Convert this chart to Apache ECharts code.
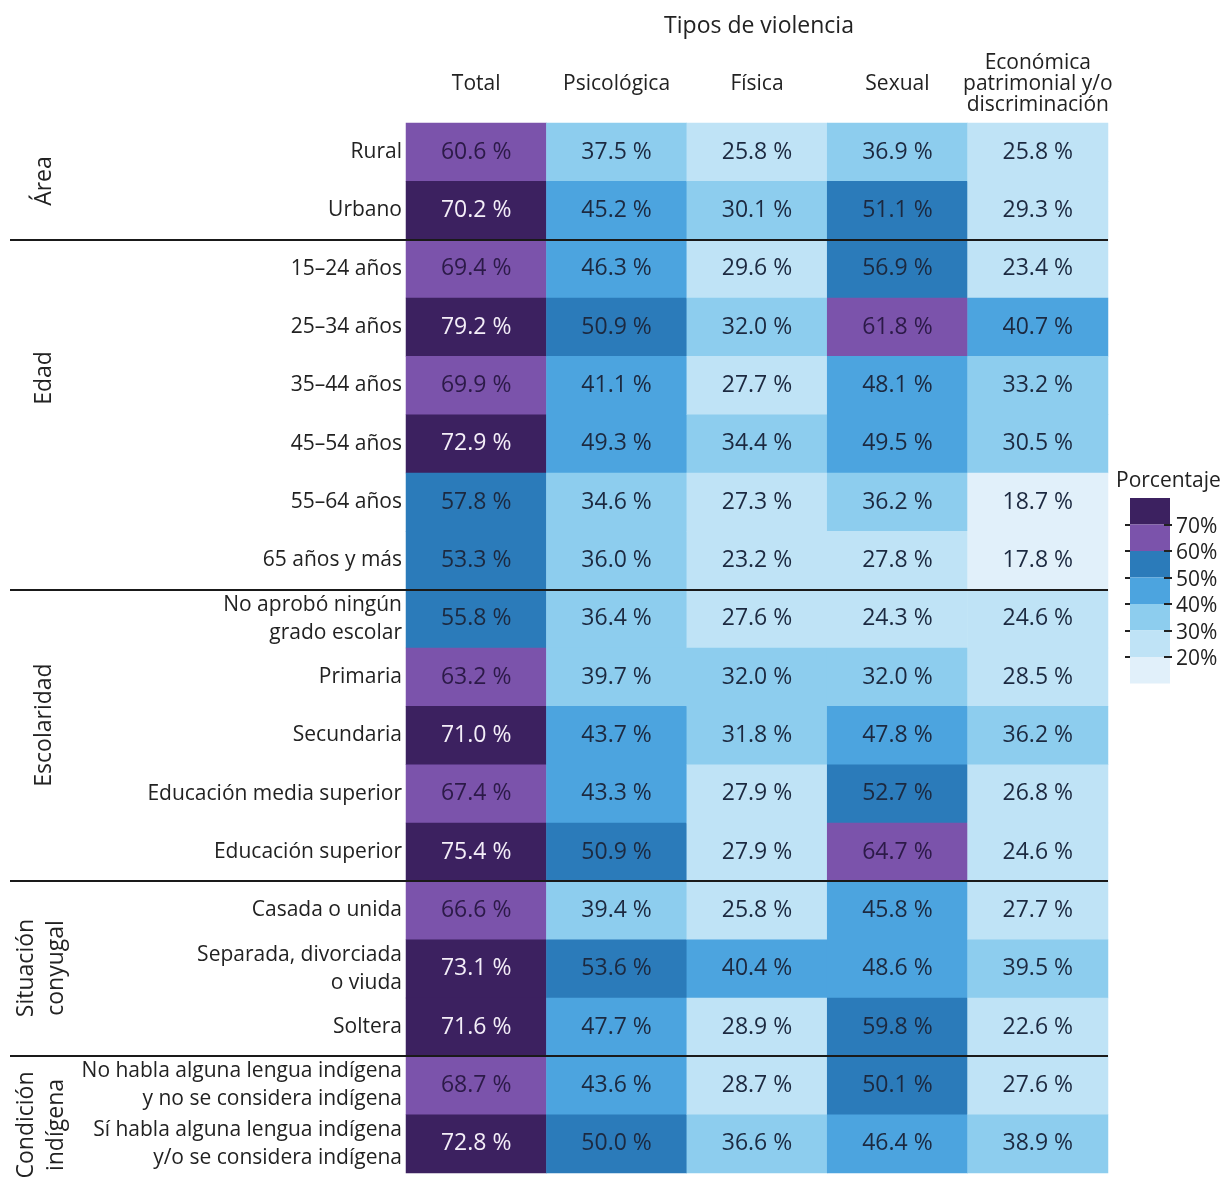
<!DOCTYPE html>
<html>
<head>
<meta charset="utf-8">
<script src="https://cdn.jsdelivr.net/npm/echarts@6/dist/echarts.min.js"></script>
<style>
  html, body { margin: 0; padding: 0; background: #fff; }
  #chart { width: 1230px; height: 1182px; }
</style>
</head>
<body>
<div id="chart"></div>
<script>
// Tipos de violencia (columns)
const tipos = ['Total', 'Psicológica', 'Física', 'Sexual', 'Económica\npatrimonial y/o\ndiscriminación'];

// Rows, top to bottom
const filas = [
    'Rural', 'Urbano',
    '15–24 años', '25–34 años', '35–44 años', '45–54 años', '55–64 años', '65 años y más',
    'No aprobó ningún\ngrado escolar', 'Primaria', 'Secundaria', 'Educación media superior', 'Educación superior',
    'Casada o unida', 'Separada, divorciada\no viuda', 'Soltera',
    'No habla alguna lengua indígena\ny no se considera indígena',
    'Sí habla alguna lengua indígena\ny/o se considera indígena'
];

// Percent values per column, same order as filas
const total       = [60.6, 70.2, 69.4, 79.2, 69.9, 72.9, 57.8, 53.3, 55.8, 63.2, 71.0, 67.4, 75.4, 66.6, 73.1, 71.6, 68.7, 72.8];
const psicologica = [37.5, 45.2, 46.3, 50.9, 41.1, 49.3, 34.6, 36.0, 36.4, 39.7, 43.7, 43.3, 50.9, 39.4, 53.6, 47.7, 43.6, 50.0];
const fisica      = [25.8, 30.1, 29.6, 32.0, 27.7, 34.4, 27.3, 23.2, 27.6, 32.0, 31.8, 27.9, 27.9, 25.8, 40.4, 28.9, 28.7, 36.6];
const sexual      = [36.9, 51.1, 56.9, 61.8, 48.1, 49.5, 36.2, 27.8, 24.3, 32.0, 47.8, 52.7, 64.7, 45.8, 48.6, 59.8, 50.1, 46.4];
const economica   = [25.8, 29.3, 23.4, 40.7, 33.2, 30.5, 18.7, 17.8, 24.6, 28.5, 36.2, 26.8, 24.6, 27.7, 39.5, 22.6, 27.6, 38.9];

// Row groups (name lines + vertical center of the rotated label)
const grupos = [
    { lines: ['Área'], cy: 181 },
    { lines: ['Edad'], cy: 378 },
    { lines: ['Escolaridad'], cy: 725 },
    { lines: ['Situación', 'conyugal'], cy: 968 },
    { lines: ['Condición', 'indígena'], cy: 1125 }
];
const cortesGrupo = [2, 8, 13, 16];

// Legend bins
const cortes = [70, 60, 50, 40, 30, 20];
const colores = ['#e1f0fa', '#bfe3f6', '#8dcdee', '#4ca4df', '#2b7bba', '#7b53ab', '#3c2160'];

const FONT = '"Open Sans", sans-serif';
const GRID = { left: 406, top: 123, width: 702, height: 1050 };
const rowH = GRID.height / filas.length;

const columnas = [total, psicologica, fisica, sexual, economica];

function labelColor(v) {
    if (v >= 70) return '#f4eef8';
    if (v >= 60) return '#2c1a48';
    return '#1c2940';
}

const data = [];
columnas.forEach((col, x) => {
    col.forEach((v, y) => {
        data.push({ value: [x, y, v], label: { color: labelColor(v) } });
    });
});

const chart = echarts.init(document.getElementById('chart'));

const graphics = [];

// group separators
cortesGrupo.forEach(k => {
    const y = Math.round(GRID.top + k * rowH);
    graphics.push({
        type: 'line', z: 100,
        shape: { x1: 10, y1: y, x2: GRID.left + GRID.width, y2: y },
        style: { stroke: '#1a1a1a', lineWidth: 2 }
    });
});

// rotated group names
grupos.forEach(g => {
    const n = g.lines.length;
    g.lines.forEach((t, i) => {
        const cx = n === 1 ? 44 : 26 + i * 30;
        graphics.push({
            type: 'text', x: cx, y: g.cy, rotation: Math.PI / 2,
            style: {
                text: t, font: '23px ' + FONT, fill: '#222',
                align: 'center', verticalAlign: 'middle'
            }
        });
    });
});

// legend title, ticks and labels
const LEG = { left: 1130, top: 498, w: 40, h: 26.5 };
graphics.push({
    type: 'text', x: 1116, y: 481,
    style: { text: 'Porcentaje', font: '21px ' + FONT, fill: '#222', verticalAlign: 'middle' }
});
cortes.forEach((c, i) => {
    const y = Math.round(LEG.top + (i + 1) * LEG.h);
    graphics.push({
        type: 'line', z: 100,
        shape: { x1: LEG.left - 5, y1: y, x2: LEG.left, y2: y },
        style: { stroke: '#222', lineWidth: 2 }
    });
    graphics.push({
        type: 'line', z: 100,
        shape: { x1: LEG.left + LEG.w - 6, y1: y, x2: LEG.left + LEG.w + 2, y2: y },
        style: { stroke: '#222', lineWidth: 2 }
    });
    graphics.push({
        type: 'text', x: LEG.left + LEG.w + 6, y: y + 2,
        style: { text: c + '%', font: '21px ' + FONT, fill: '#222', verticalAlign: 'middle' }
    });
});

const option = {
    animation: false,
    backgroundColor: '#fff',
    title: {
        text: 'Tipos de violencia',
        left: GRID.left + GRID.width / 2 - 3,
        top: 10,
        textAlign: 'center',
        textStyle: { fontFamily: FONT, fontSize: 23, fontWeight: 'normal', color: '#222' }
    },
    grid: GRID,
    xAxis: {
        type: 'category',
        position: 'top',
        data: tipos,
        axisLine: { show: false },
        axisTick: { show: false },
        splitLine: { show: false },
        axisLabel: {
            interval: 0,
            margin: 39,
            verticalAlign: 'middle',
            lineHeight: 21,
            fontFamily: FONT,
            fontSize: 21,
            color: '#222'
        }
    },
    yAxis: {
        type: 'category',
        inverse: true,
        data: filas,
        axisLine: { show: false },
        axisTick: { show: false },
        splitLine: { show: false },
        axisLabel: {
            interval: 0,
            margin: 4,
            lineHeight: 28,
            fontFamily: FONT,
            fontSize: 21,
            color: '#222'
        }
    },
    visualMap: {
        type: 'piecewise',
        dimension: 2,
        orient: 'vertical',
        left: LEG.left,
        top: LEG.top,
        itemWidth: LEG.w,
        itemHeight: LEG.h,
        itemGap: 0,
        itemSymbol: 'rect',
        showLabel: false,
        selectedMode: false,
        padding: 0,
        pieces: [
            { lt: 20, color: colores[0] },
            { gte: 20, lt: 30, color: colores[1] },
            { gte: 30, lt: 40, color: colores[2] },
            { gte: 40, lt: 50, color: colores[3] },
            { gte: 50, lt: 60, color: colores[4] },
            { gte: 60, lt: 70, color: colores[5] },
            { gte: 70, color: colores[6] }
        ]
    },
    series: [{
        type: 'heatmap',
        data: data,
        itemStyle: { borderWidth: 0 },
        label: {
            show: true,
            fontFamily: FONT,
            fontSize: 23,
            formatter: p => p.value[2].toFixed(1) + ' %'
        },
        emphasis: { disabled: true }
    }],
    graphic: graphics
};

chart.setOption(option);
</script>
</body>
</html>
